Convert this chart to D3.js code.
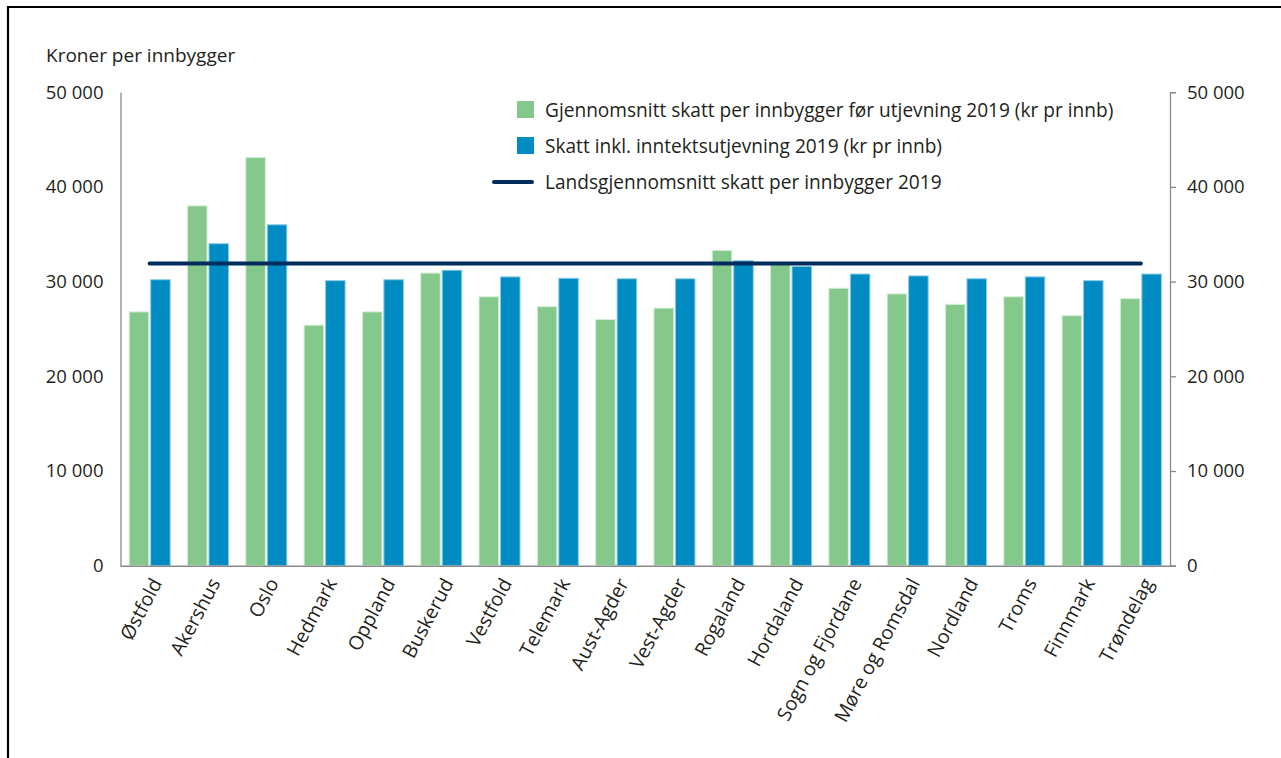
<!DOCTYPE html>
<html>
<head>
<meta charset="utf-8">
<script src="https://cdn.jsdelivr.net/npm/d3@7/dist/d3.min.js"></script>
<style>
  html, body { margin: 0; padding: 0; background: #fff; }
  svg { display: block; }
  text { font-family: "Open Sans", sans-serif; fill: #231f20; }
</style>
</head>
<body>
<svg id="chart" width="1281" height="758"></svg>
<script>
const categories = ["Østfold","Akershus","Oslo","Hedmark","Oppland","Buskerud","Vestfold","Telemark","Aust-Agder","Vest-Agder","Rogaland","Hordaland","Sogn og Fjordane","Møre og Romsdal","Nordland","Troms","Finnmark","Trøndelag"];
const beforeEqualization = [26800,38000,43100,25400,26800,30900,28400,27350,26000,27200,33300,31800,29300,28700,27600,28400,26400,28200];
const afterEqualization = [30200,34000,36000,30100,30200,31200,30500,30350,30300,30300,32200,31600,30800,30600,30300,30500,30100,30800];
const nationalAverage = 31900;
const tickValues = [0,10000,20000,30000,40000,50000];
const tickLabels = ["0","10 000","20 000","30 000","40 000","50 000"];
const seriesNames = ["Gjennomsnitt skatt per innbygger før utjevning 2019 (kr pr innb)","Skatt inkl. inntektsutjevning 2019 (kr pr innb)","Landsgjennomsnitt skatt per innbygger 2019"];
const yAxisTitle = "Kroner per innbygger";

const colors = {green: "#84c98b", blue: "#008cc2", line: "#002d5e", axis: "#8a8a8a"};

const svg = d3.select("#chart");
const mLeft = 120.5, mRight = 1170, mTop = 92.2, mBottom = 565.7;

// frame
svg.append("line").attr("x1",7).attr("x2",1281).attr("y1",7).attr("y2",7).attr("stroke","#000").attr("stroke-width",2.2);
svg.append("line").attr("x1",8).attr("x2",8).attr("y1",6).attr("y2",758).attr("stroke","#000").attr("stroke-width",2.2);

const x = d3.scaleBand().domain(categories).range([mLeft, mRight]).paddingInner(0).paddingOuter(0);
const xInner = d3.scaleBand().domain(["before","after"]).range([8.7, 49.7]).paddingInner(0.09);
const y = d3.scaleLinear().domain([0,50000]).range([mBottom, mTop]);

// bars
const groups = svg.append("g").selectAll("g").data(categories).join("g")
  .attr("transform", d => `translate(${x(d)},0)`);
groups.append("rect")
  .attr("x", xInner("before")).attr("width", xInner.bandwidth())
  .attr("y", (d,i) => y(beforeEqualization[i]))
  .attr("height", (d,i) => y(0) - y(beforeEqualization[i]))
  .attr("fill", colors.green).attr("stroke","#d4eed6").attr("stroke-width",1);
groups.append("rect")
  .attr("x", xInner("after")).attr("width", xInner.bandwidth())
  .attr("y", (d,i) => y(afterEqualization[i]))
  .attr("height", (d,i) => y(0) - y(afterEqualization[i]))
  .attr("fill", colors.blue).attr("stroke","#8ccbe6").attr("stroke-width",1);

// national average line
svg.append("line")
  .attr("x1", x(categories[0]) + x.bandwidth()/2)
  .attr("x2", x(categories[categories.length-1]) + x.bandwidth()/2)
  .attr("y1", y(nationalAverage)).attr("y2", y(nationalAverage))
  .attr("stroke", colors.line).attr("stroke-width", 4).attr("stroke-linecap","round");

// left axis
const yLeft = d3.axisLeft(y).tickValues(tickValues).tickSize(0).tickPadding(17)
  .tickFormat((d,i) => tickLabels[i]);
const gl = svg.append("g").attr("transform", `translate(${mLeft},0)`).call(yLeft);
gl.select(".domain").attr("stroke", colors.axis).attr("stroke-width",1.3);
gl.selectAll("text").style("font-size","18.5px").style("font-family","'Open Sans', sans-serif").attr("fill","#231f20");

// right axis
const yRight = d3.axisRight(y).tickValues(tickValues).tickSize(6).tickSizeOuter(6).tickPadding(11)
  .tickFormat((d,i) => tickLabels[i]);
const gr = svg.append("g").attr("transform", `translate(${mRight},0)`).call(yRight);
gr.select(".domain").attr("stroke", colors.axis).attr("stroke-width",1.3);
gr.selectAll(".tick line").attr("stroke", colors.axis).attr("stroke-width",1.3);
gr.selectAll("text").style("font-size","18.5px").style("font-family","'Open Sans', sans-serif").attr("fill","#231f20");

// x axis
const xAxis = d3.axisBottom(x).tickSize(0).tickSizeOuter(0).tickPadding(0);
const gx = svg.append("g").attr("transform", `translate(0,${mBottom})`).call(xAxis);
gx.select(".domain").attr("d", `M${mLeft},0.5H${mRight+6}`).attr("stroke", colors.axis).attr("stroke-width",1.6);
gx.selectAll(".tick text")
  .style("font-size","19.5px").style("font-family","'Open Sans', sans-serif").attr("fill","#231f20")
  .attr("text-anchor","end")
  .attr("dy","0.35em")
  .attr("transform","translate(7,14) rotate(-62)")
  .attr("y",0).attr("x",0);

// y title
svg.append("text").attr("x",46).attr("y",62).text(yAxisTitle).style("font-size","19px");

// legend
const lg = svg.append("g");
lg.append("rect").attr("x",517).attr("y",101).attr("width",17).attr("height",17).attr("fill",colors.green);
lg.append("rect").attr("x",517).attr("y",137).attr("width",17).attr("height",17).attr("fill",colors.blue);
lg.append("line").attr("x1",494).attr("x2",532).attr("y1",182).attr("y2",182)
  .attr("stroke",colors.line).attr("stroke-width",4).attr("stroke-linecap","round");
const legY = [110,146,182];
seriesNames.forEach((n,i) => {
  lg.append("text").attr("x",545).attr("y",legY[i]).attr("dy","0.35em").text(n).style("font-size","19.1px");
});
</script>
</body>
</html>
